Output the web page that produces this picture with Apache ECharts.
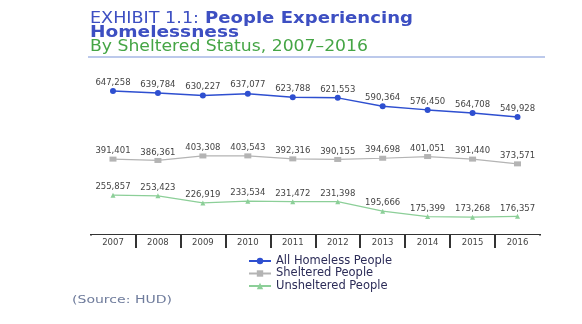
<!DOCTYPE html>
<html><head><meta charset="utf-8">
<script src="https://cdn.jsdelivr.net/npm/echarts@6/dist/echarts.min.js"></script>
<style>html,body{margin:0;padding:0;background:#fff}#c{width:582px;height:324px}</style>
</head><body><div id="c"></div>
<script>
const years = ['2007','2008','2009','2010','2011','2012','2013','2014','2015','2016'];
const allHomeless = [647258,639784,630227,637077,623788,621553,590364,576450,564708,549928];
const sheltered = [391401,386361,403308,403543,392316,390155,394698,401051,391440,373571];
const unsheltered = [255857,253423,226919,233534,231472,231398,195666,175399,173268,176357];
const seriesNames = ['All Homeless People','Sheltered People','Unsheltered People'];

const FONT = 'DejaVu Sans';
const cv = document.createElement('canvas').getContext('2d');
function fitText(text, x1, x2, yc, size, weight, color) {
  cv.font = (weight === 'bold' ? 'bold ' : '') + size + 'px "' + FONT + '"';
  const w = cv.measureText(text).width;
  const s = (x2 - x1) / w;
  return {type:'text', x:x1, y:yc, scaleX:s, z:100,
    style:{text:text, fontSize:size, fontWeight:weight, fill:color, fontFamily:FONT, verticalAlign:'middle', textAlign:'left'}};
}

const chart = echarts.init(document.getElementById('c'));
const fmt = p => p.value.toLocaleString('en-US');
const lbl = {show:true, position:'top', distance:1, formatter:fmt, fontSize:8.5, color:'#444', fontFamily:FONT};
const blue = '#3d4fc2';
chart.setOption({
  animation:false,
  graphic:[
    fitText('EXHIBIT 1.1:', 90, 199, 19, 15, 'normal', blue),
    fitText('People Experiencing', 205, 413, 19, 15, 'bold', blue),
    fitText('Homelessness', 90, 239, 33, 15, 'bold', blue),
    fitText('By Sheltered Status, 2007–2016', 90, 368, 47, 15, 'normal', '#45a545'),
    {type:'line', z:100, shape:{x1:88,y1:57,x2:545,y2:57}, style:{stroke:'#7a93d8', lineWidth:1.2}},
    fitText('(Source: HUD)', 72, 172, 300, 11, 'normal', '#6f7c9c'),
    {type:'rect', z:100, shape:{x:88, y:235.5, width:4.5, height:16}, style:{fill:'#fff'}},
    {type:'rect', z:100, shape:{x:538, y:235.5, width:5, height:16}, style:{fill:'#fff'}}
  ],
  legend:{
    orient:'vertical', left:243, top:250, itemGap:0.5, itemWidth:22, itemHeight:8,
    textStyle:{fontSize:11.5, color:'#2c2c58', fontFamily:FONT, lineHeight:12},
    data:seriesNames
  },
  grid:{left:90.5, right:42, top:77, height:157},
  xAxis:{
    type:'category', data:years, boundaryGap:true,
    axisLine:{lineStyle:{color:'#333', width:1}},
    axisTick:{show:true, length:14, lineStyle:{color:'#333', width:2}},
    axisLabel:{fontSize:8.5, color:'#444', margin:4, fontFamily:FONT}
  },
  yAxis:{type:'value', min:110000, max:700000, show:false, splitLine:{show:false}},
  series:[
    {name:seriesNames[0], type:'line', data:allHomeless, symbol:'circle', symbolSize:6,
      itemStyle:{color:'#2e4fd0'}, lineStyle:{color:'#2e4fd0', width:1.5}, label:lbl},
    {name:seriesNames[1], type:'line', data:sheltered, symbol:'rect', symbolSize:[7,5],
      itemStyle:{color:'#b4b4b4'}, lineStyle:{color:'#b4b4b4', width:1.2}, label:lbl},
    {name:seriesNames[2], type:'line', data:unsheltered, symbol:'triangle', symbolSize:5,
      itemStyle:{color:'#8ccf98'}, lineStyle:{color:'#8ccf98', width:1.2}, label:lbl}
  ]
});
</script></body></html>
